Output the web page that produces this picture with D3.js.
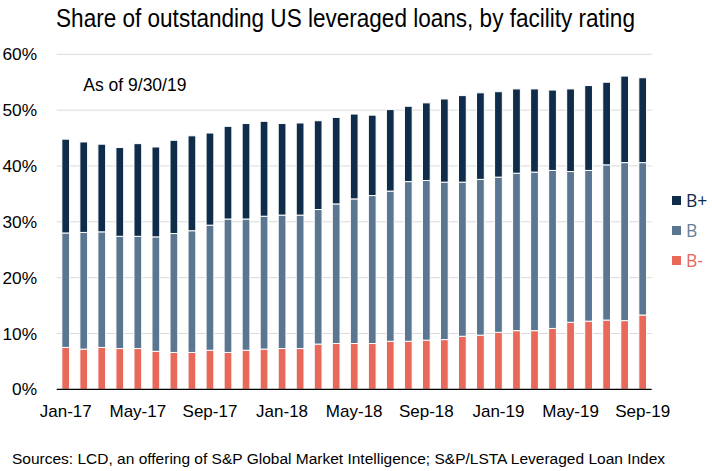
<!DOCTYPE html>
<html>
<head>
<meta charset="utf-8">
<script src="https://cdn.jsdelivr.net/npm/d3@7"></script>
<style>
  html, body { margin: 0; padding: 0; background: #fff; }
  svg { display: block; }
</style>
</head>
<body>
<svg id="chart" width="712" height="471"></svg>
<script>
const months = ["Jan-17","Feb-17","Mar-17","Apr-17","May-17","Jun-17","Jul-17","Aug-17","Sep-17","Oct-17","Nov-17","Dec-17",
                "Jan-18","Feb-18","Mar-18","Apr-18","May-18","Jun-18","Jul-18","Aug-18","Sep-18","Oct-18","Nov-18","Dec-18",
                "Jan-19","Feb-19","Mar-19","Apr-19","May-19","Jun-19","Jul-19","Aug-19","Sep-19"];
const bMinus = [7.5,7.2,7.5,7.3,7.3,6.8,6.6,6.6,7.0,6.6,7.0,7.2,7.3,7.3,8.1,8.2,8.2,8.2,8.6,8.6,8.8,8.9,9.5,9.7,10.2,10.5,10.5,10.9,12.0,12.2,12.4,12.3,13.3];
const bMid   = [20.5,20.9,20.7,20.1,20.1,20.5,21.3,21.8,22.4,23.9,23.5,23.8,23.9,23.9,24.1,25.0,25.9,26.5,26.9,28.6,28.6,28.2,27.6,27.9,27.8,28.2,28.4,28.3,27.0,27.0,27.8,28.3,27.3];
const bPlus  = [16.8,16.2,15.7,15.9,16.6,16.1,16.7,17.0,16.5,16.6,17.1,17.0,16.4,16.5,15.9,15.5,15.2,14.4,14.6,13.5,13.9,14.9,15.5,15.5,15.3,15.1,14.9,14.4,14.8,15.2,14.8,15.5,15.2];
const seriesNames = ["B-","B","B+"];
const yTicks = [0,10,20,30,40,50,60];
const colors = {"B+":"#0f2d4b","B":"#5b7690","B-":"#e8695a"};
const legendTextColors = {"B+":"#0f2d4b","B":"#667f97","B-":"#e8695a"};

const title = "Share of outstanding US leveraged loans, by facility rating";
const note = "As of 9/30/19";
const source = "Sources: LCD, an offering of S&P Global Market Intelligence; S&P/LSTA Leveraged Loan Index";

const rows = months.map((m,i) => ({month:m, "B-":bMinus[i], "B":bMid[i], "B+":bPlus[i]}));

const svg = d3.select("#chart");
const mLeft = 56.7, mRight = 651.7, mTop = 54.3, mBottom = 389.3;

const x = d3.scaleBand().domain(months).range([mLeft, mRight]).paddingInner(0.57).paddingOuter(0.285);
const y = d3.scaleLinear().domain([0,60]).range([mBottom, mTop]);

// gridlines
svg.append("g").selectAll("line").data(yTicks.filter(d => d > 0)).join("line")
  .attr("x1", mLeft).attr("x2", mRight)
  .attr("y1", d => y(d)).attr("y2", d => y(d))
  .attr("stroke", "#d9d9d9").attr("stroke-width", 1);

// stacked bars
const stack = d3.stack().keys(seriesNames)(rows);
svg.append("g").selectAll("g").data(stack).join("g")
  .attr("fill", d => colors[d.key])
  .selectAll("rect").data(d => d).join("rect")
  .attr("x", d => x(d.data.month))
  .attr("width", x.bandwidth())
  .attr("y", d => y(d[1]))
  .attr("height", d => y(d[0]) - y(d[1]))
  .attr("stroke", "#fff").attr("stroke-width", 1);

// baseline
svg.append("line").attr("x1", mLeft).attr("x2", mRight)
  .attr("y1", y(0)).attr("y2", y(0)).attr("stroke", "#000").attr("stroke-width", 1.2);

// y axis
const yAxis = svg.append("g").attr("transform", `translate(${mLeft},0)`)
  .call(d3.axisLeft(y).tickValues(yTicks).tickSize(0).tickPadding(19.7).tickFormat(d => d + "%"));
yAxis.select(".domain").remove();
yAxis.selectAll("text").attr("font-family", "'Liberation Sans', Arial, sans-serif")
  .attr("font-size", 17.3).attr("fill", "#000");

// x axis
const xAxis = svg.append("g").attr("transform", `translate(0,${mBottom})`)
  .call(d3.axisBottom(x).tickValues(months.filter((m,i) => i % 4 === 0)).tickSize(0).tickPadding(15.3));
xAxis.select(".domain").remove();
xAxis.selectAll("text").attr("font-family", "'Liberation Sans', Arial, sans-serif")
  .attr("font-size", 17).attr("fill", "#000");

// title (condensed horizontally like the reference)
svg.append("text").attr("transform", "translate(345.5,27) scale(0.881,1)").attr("text-anchor", "middle")
  .attr("font-family", "'Liberation Sans', Arial, sans-serif")
  .attr("font-size", 25.6).attr("fill", "#000").text(title);

// note
svg.append("text").attr("x", 83.3).attr("y", 90.7)
  .attr("font-family", "'Liberation Sans', Arial, sans-serif")
  .attr("font-size", 17.5).attr("fill", "#000").text(note);

// source
svg.append("text").attr("x", 12).attr("y", 464.3)
  .attr("font-family", "'Liberation Sans', Arial, sans-serif")
  .attr("font-size", 15.5).attr("fill", "#000").text(source);

// legend
const legendOrder = ["B+","B","B-"];
const lg = svg.append("g").selectAll("g").data(legendOrder).join("g")
  .attr("transform", (d,i) => `translate(672,${200.5 + i*30})`);
lg.append("rect").attr("x", 0).attr("y", -4.5).attr("width", 9).attr("height", 9)
  .attr("fill", d => colors[d]);
lg.append("text").attr("x", 14).attr("y", 0).attr("dy", "0.36em")
  .attr("font-family", "'Open Sans', 'DejaVu Sans', sans-serif")
  .attr("font-size", 17.5).attr("fill", d => legendTextColors[d]).text(d => d);
</script>
</body>
</html>
